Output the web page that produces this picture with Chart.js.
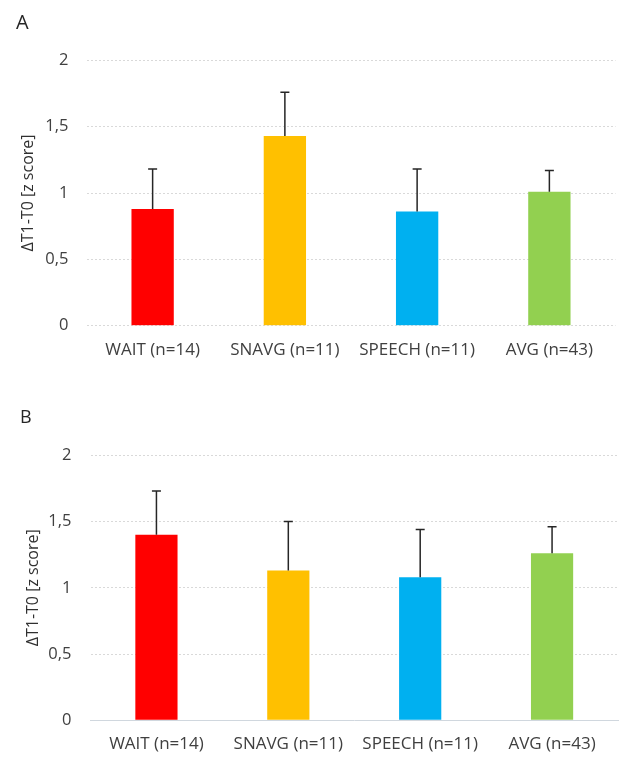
<!DOCTYPE html>
<html>
<head>
<meta charset="utf-8">
<script src="https://cdn.jsdelivr.net/npm/chart.js@4.4.1/dist/chart.umd.min.js"></script>
<style>
  html,body{margin:0;padding:0;background:#fff;}
  .panel{position:absolute;left:0;width:622px;}
  #pa{top:0;height:378px;}
  #pb{top:378px;height:379px;}
</style>
</head>
<body>
<div class="panel" id="pa"><canvas id="chartA"></canvas></div>
<div class="panel" id="pb"><canvas id="chartB"></canvas></div>
<script>
// groups and values
const groups = ['WAIT (n=14)', 'SNAVG (n=11)', 'SPEECH (n=11)', 'AVG (n=43)'];
const colors = ['#FF0000', '#FFC000', '#00B0F0', '#92D050'];
const meanA = [0.88, 1.43, 0.86, 1.01];
const errA  = [0.30, 0.33, 0.32, 0.16];
const meanB = [1.40, 1.13, 1.08, 1.26];
const errB  = [0.33, 0.37, 0.36, 0.20];
const yTicks = [0, 0.5, 1, 1.5, 2];
const yTitle = 'ΔT1-T0 [z score]';

Chart.defaults.font.family = '"Open Sans", Lato, sans-serif';
Chart.defaults.color = '#404040';
Chart.defaults.animation = false;

// upper error whiskers, drawn through the y scale
const errorBars = {
  id:'errorBars',
  afterDatasetsDraw(chart, args, opts){
    const ctx = chart.ctx, meta = chart.getDatasetMeta(0), y = chart.scales.y;
    const err = opts.err;
    ctx.save();
    ctx.strokeStyle = '#262626';
    ctx.lineWidth = 1.5;
    meta.data.forEach((bar, i) => {
      const v = chart.data.datasets[0].data[i];
      const y0 = y.getPixelForValue(v), y1 = y.getPixelForValue(v + err[i]);
      ctx.beginPath();
      ctx.moveTo(bar.x, y0); ctx.lineTo(bar.x, y1);
      ctx.moveTo(bar.x - 4.5, y1); ctx.lineTo(bar.x + 4.5, y1);
      ctx.stroke();
    });
    ctx.restore();
  }
};

function makeChart(id, letter, vals, err, cfg){
  return new Chart(document.getElementById(id), {
    type:'bar',
    data:{labels:groups, datasets:[{data:vals, backgroundColor:colors, borderWidth:0,
      barPercentage:0.32, categoryPercentage:1.0}]},
    plugins:[errorBars],
    options:{
      responsive:true, maintainAspectRatio:false,
      layout:{padding:{left:cfg.left, right:cfg.right, top:0, bottom:0}},
      plugins:{
        legend:{display:false}, tooltip:{enabled:false},
        title:{display:true, text:letter, align:'start', color:'#262626',
          font:{size:cfg.letterSize, weight:'normal'}, padding:cfg.letterPad},
        errorBars:{err}
      },
      scales:{
        x:{
          grid:{display:false, drawTicks:false},
          border:{display:cfg.zeroSolid, color:'#d0d7de', width:1},
          ticks:{padding:14, font:{size:17}, color:'#404040'},
          afterFit(s){ s.height = cfg.xh; }
        },
        y:{
          min:0, max:2,
          afterBuildTicks(s){ s.ticks = yTicks.map(v => ({value:v})); },
          grid:{color:'#d9d9d9', drawTicks:false, lineWidth:1},
          border:{display:false, dash:[2,2]},
          ticks:{padding:cfg.tickPad, font:{size:16.5}, color:'#404040',
            callback:v => String(v).replace('.', ',')},
          title:{display:true, text:yTitle, font:{size:16}, color:'#303030', padding:{top:cfg.titlePad, bottom:0}},
          afterFit(s){ s.width = cfg.yw; }
        }
      }
    }
  });
}

makeChart('chartA', 'A', meanA, errA, {
  left:16, right:6.5, yw:70.5, xh:52.3, tickPad:18, titlePad:2.5, zeroSolid:false,
  letterSize:20, letterPad:{top:11.5, bottom:24.8}
});
makeChart('chartB', 'B', meanB, errB, {
  left:20, right:4, yw:70.5, xh:36.7, tickPad:19, titlePad:3.5, zeroSolid:true,
  letterSize:18, letterPad:{top:29, bottom:26.7}
});
</script>
</body>
</html>
